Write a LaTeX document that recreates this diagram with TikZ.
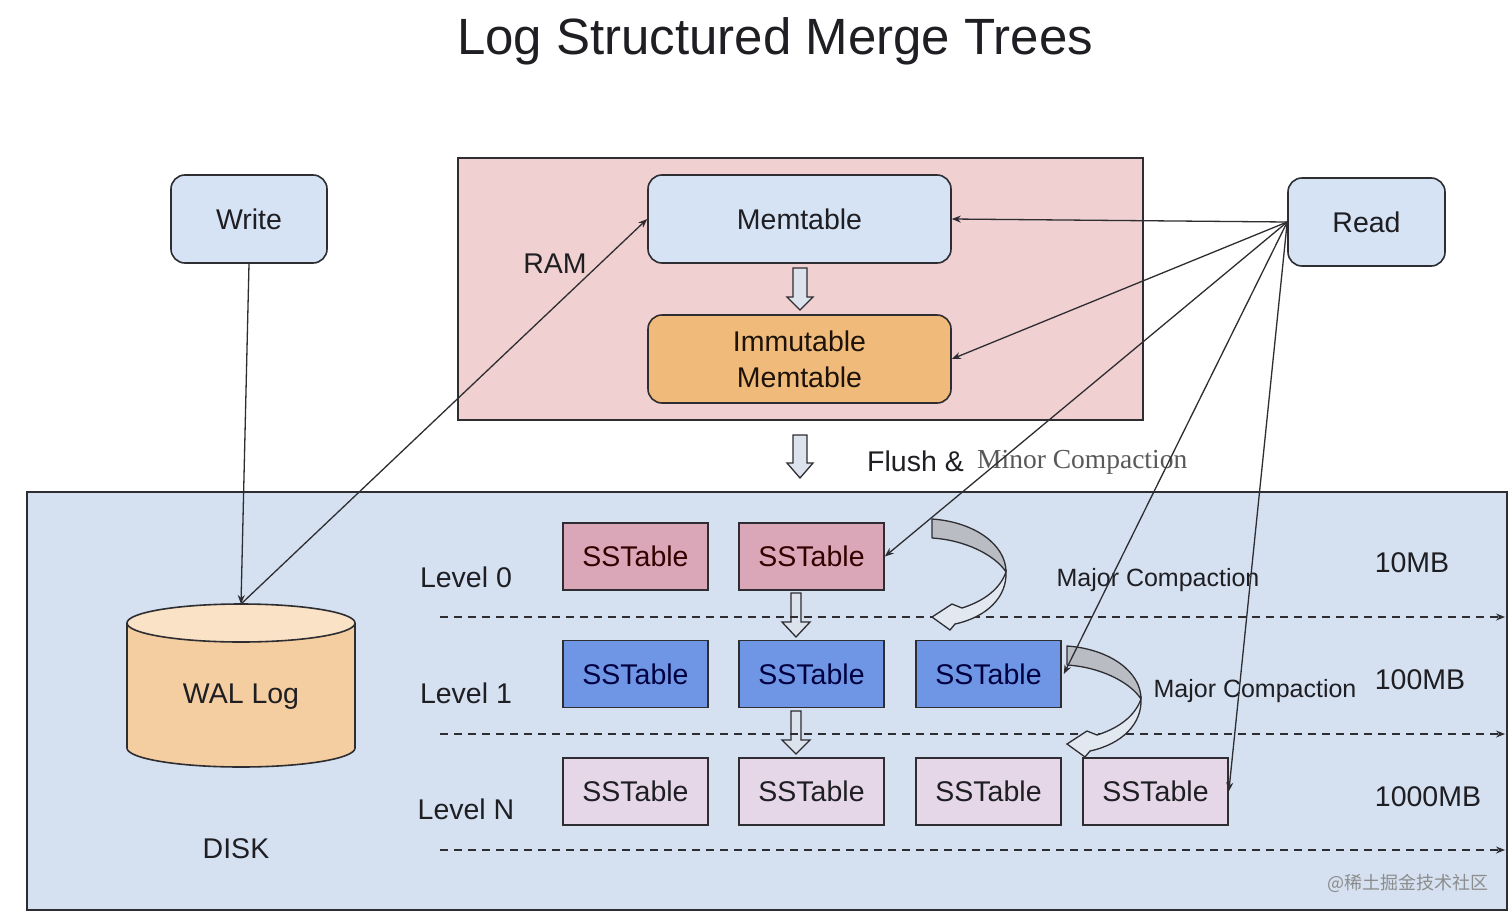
\documentclass[tikz,border=0pt]{standalone}
\usepackage{fontspec}
\setmainfont{Liberation Sans}
\newfontfamily\timesf{Liberation Serif}
\newfontfamily\cjk{Noto Sans CJK SC}
\usetikzlibrary{arrows.meta}
\definecolor{ramfill}{RGB}{240,208,208}
\definecolor{boxblue}{RGB}{213,227,245}
\definecolor{immfill}{RGB}{240,186,122}
\definecolor{diskfill}{RGB}{213,225,241}
\definecolor{sst0}{RGB}{217,167,184}
\definecolor{sst1}{RGB}{110,150,228}
\definecolor{sst2}{RGB}{229,215,232}
\definecolor{walbody}{RGB}{244,206,160}
\definecolor{waltopc}{RGB}{249,226,198}
\definecolor{bdfill}{RGB}{220,227,236}
\definecolor{edge}{RGB}{45,45,50}
\definecolor{txt}{RGB}{30,30,35}
\definecolor{cgray}{RGB}{185,189,195}
\definecolor{clight}{RGB}{226,232,240}
\newcommand\lbl{\fontsize{28.5}{36}\selectfont}
\newcommand\bdarrow[6]{%
  \draw[edge,line width=1.3pt,fill=bdfill,line join=miter]
   (#1-#5,#2) -- (#1-#5,#3) -- (#1-#6,#3) -- (#1,#4) -- (#1+#6,#3) -- (#1+#5,#3) -- (#1+#5,#2) -- cycle;}
\newcommand\curvarr[2]{%
  \begin{scope}[shift={(#1,#2)}]
  \draw[edge,line width=1.3pt,fill=cgray,line join=round]
    (0,0) .. controls (43,3) and (74,26) .. (74,53) .. controls (63,36) and (33,21) .. (0,19) -- cycle;
  \draw[edge,line width=1.3pt,fill=clight,line join=miter]
    (74,53) .. controls (75,78) and (55,98) .. (23,105) -- (18,111) -- (0,98) -- (20,85) -- (30,89)
    .. controls (52,82) and (68,70) .. (74,53) -- cycle;
  \end{scope}}
\tikzset{
  rbox/.style={draw=edge,line width=1.6pt,rounded corners=14pt,fill=boxblue,text=txt,font=\lbl,inner sep=0pt},
  sstbox/.style={draw=edge,line width=1.6pt,minimum width=145pt,minimum height=67pt,text=txt,font=\lbl,inner sep=0pt},
  conn/.style={draw=edge,line width=1.3pt,-{Stealth[length=9pt,width=7pt]}},
  lvl/.style={dashed,dash pattern=on 8pt off 6pt,draw=edge,line width=1.3pt,-{Stealth[length=9pt,width=7pt]}},
  plain/.style={text=txt,font=\lbl,inner sep=0pt},
}
\begin{document}
\begin{tikzpicture}[x=1pt,y=-1pt]
\useasboundingbox[fill=white] (0,0) rectangle (1512,918);
% title
\node[plain,font=\fontsize{51}{60}\selectfont] (title) at (775,41) {Log Structured Merge Trees};
% RAM region
\node[draw=edge,line width=1.6pt,fill=ramfill,minimum width=685pt,minimum height=262pt,inner sep=0pt] (ram) at (800.5,289) {};
\node[plain] (ramlbl) at (555,264) {RAM};
% DISK region
\node[draw=edge,line width=1.8pt,fill=diskfill,minimum width=1480pt,minimum height=418pt,inner sep=0pt] (disk) at (767,701) {};
\node[plain] (disklbl) at (236,849) {DISK};
% boxes
\node[rbox,minimum width=156pt,minimum height=88pt] (write) at (249,219) {Write};
\node[rbox,minimum width=157pt,minimum height=88pt] (read) at (1366.5,222) {Read};
\node[rbox,minimum width=303pt,minimum height=88pt] (mem) at (799.5,219) {Memtable};
\node[rbox,minimum width=303pt,minimum height=88pt,fill=immfill,text=black!85!brown,align=center] (imm) at (799.5,359) {Immutable\\Memtable};
% block arrows
\bdarrow{800}{268}{297}{310}{7}{13}
\bdarrow{800}{435}{463}{478}{7}{13}
\bdarrow{796}{593}{622}{637}{5}{14}
\bdarrow{796}{711}{740}{754}{5}{14}
% flush label
\node[plain,anchor=west] (flush) at (867,461) {Flush \&};
\node[anchor=west,inner sep=0pt,text=black!65,font=\timesf\fontsize{27.5}{33}\selectfont] (minor) at (977,462) {Minor Compaction};
% WAL cylinder
\fill[walbody] (241,748) ellipse [x radius=114, y radius=19];
\fill[walbody] (127,623) rectangle (355,748);
\draw[edge,line width=1.6pt] (127,623) -- (127,748) arc[start angle=180,end angle=0,x radius=114,y radius=19] -- (355,623);
\draw[edge,line width=1.6pt,fill=waltopc] (241,623) ellipse [x radius=114, y radius=19];
\coordinate (waltop) at (241,604);
\node[plain] (wallbl) at (241,697) {WAL Log};
% levels
\node[plain] (l0) at (466,577) {Level 0};
\node[plain] (l1) at (466,693) {Level 1};
\node[plain] (ln) at (466,809) {Level N};
\node[plain] (mb0) at (1412,563) {10MB};
\node[plain] (mb1) at (1420,680) {100MB};
\node[plain] (mb2) at (1428,797) {1000MB};
% dashed level lines
\coordinate (d0a) at (440,617); \coordinate (d0b) at (1505,617);
\coordinate (d1a) at (440,734); \coordinate (d1b) at (1505,734);
\coordinate (d2a) at (440,850); \coordinate (d2b) at (1505,850);
\draw[lvl] (d0a) -- (d0b);
\draw[lvl] (d1a) -- (d1b);
\draw[lvl] (d2a) -- (d2b);
% SSTables
\node[sstbox,fill=sst0,text=black!80!red] (s01) at (635.5,556.5) {SSTable};
\node[sstbox,fill=sst0,text=black!80!red] (s02) at (811.5,556.5) {SSTable};
\node[sstbox,fill=sst1,text=black!75!blue] (s11) at (635.5,674) {SSTable};
\node[sstbox,fill=sst1,text=black!75!blue] (s12) at (811.5,674) {SSTable};
\node[sstbox,fill=sst1,text=black!75!blue] (s13) at (988.5,674) {SSTable};
\node[sstbox,fill=sst2] (s21) at (635.5,791.5) {SSTable};
\node[sstbox,fill=sst2] (s22) at (811.5,791.5) {SSTable};
\node[sstbox,fill=sst2] (s23) at (988.5,791.5) {SSTable};
\node[sstbox,fill=sst2] (s24) at (1155.5,791.5) {SSTable};
% curved compaction arrows
\curvarr{932}{519}
\curvarr{1067}{646}
\node[plain,font=\fontsize{25}{30}\selectfont] (maj0) at (1158,580) {Major Compaction};
\node[plain,font=\fontsize{25}{30}\selectfont] (maj1) at (1255,691) {Major Compaction};
% connectors
\draw[conn] (write.south) -- (waltop);
\draw[conn] (waltop) -- (mem.west);
\draw[conn] (read.west) -- (mem.east);
\draw[conn] (read.west) -- (imm.east);
\draw[conn] (read.west) -- (s02.east);
\draw[conn] (read.west) -- ([xshift=2pt]s13.east);
\draw[conn] (read.west) -- (s24.east);
% watermark
\node[inner sep=0pt,text=black!45,font=\cjk\fontsize{18}{22}\selectfont] (wm) at (1408,883) {@稀土掘金技术社区};
\end{tikzpicture}
\end{document}
